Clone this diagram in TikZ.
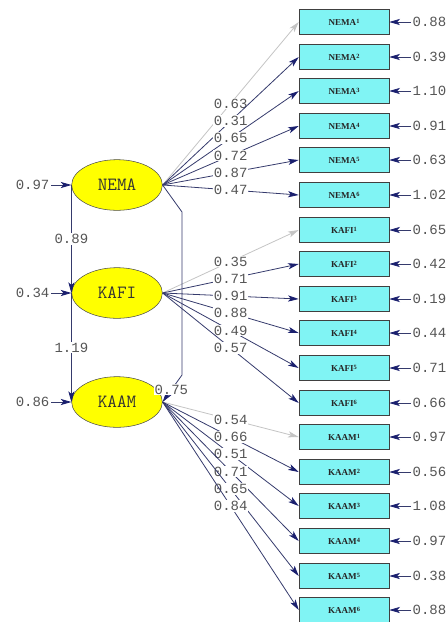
\documentclass[tikz,border=0pt]{standalone}
\usepackage{fontspec}
\newfontfamily\numfont{Liberation Mono}
\newfontfamily\boxfont{Liberation Serif}
\usetikzlibrary{arrows.meta,shapes.geometric}
\definecolor{boxcyan}{HTML}{80F4F4}
\definecolor{latyellow}{HTML}{FFFF00}
\definecolor{pathnavy}{HTML}{1A1F6E}
\definecolor{pathline}{HTML}{353A6C}
\definecolor{fixgray}{HTML}{C4C4C4}
\definecolor{numgray}{HTML}{555555}
\newcommand{\obsname}[2]{#1\raisebox{1.4pt}{\fontsize{4.8}{4.8}\selectfont #2}}
\tikzset{
  latent/.style={draw=black!70, fill=latyellow, ellipse, minimum width=68pt, minimum height=38pt, inner sep=0pt, text=black!80, font=\ttfamily\fontsize{14}{14}\selectfont},
  indicator/.style={draw=black!75, fill=boxcyan, minimum width=67.5pt, minimum height=18.75pt, inner sep=0pt, text=black!85, font=\boxfont\bfseries\fontsize{6.8}{6.8}\selectfont},
  loading/.style={draw=pathline, line width=0.6pt, -{Stealth[length=8pt, width=4.6pt, inset=2pt, color=pathnavy]}},
  fixed/.style={draw=fixgray, line width=0.6pt, -{Stealth[length=8pt, width=4.6pt, inset=2pt, color=fixgray]}},
  coef/.style={fill=white, inner sep=0.6pt, text=numgray, font=\numfont\fontsize{10.5}{10.5}\selectfont},
  errnum/.style={inner sep=1pt, text=numgray, font=\numfont\fontsize{10.5}{10.5}\selectfont}
}
\begin{document}
\begin{tikzpicture}[x=0.75pt, y=-0.75pt]
    \useasboundingbox (0, 0) rectangle (448, 622);

    % latent variables
    \node[latent] (nema) at (117, 185) {NEMA};
    \node[latent] (kafi) at (117, 293) {KAFI};
    \node[latent] (kaam) at (117, 402) {KAAM};

    % observed variables
    \node[indicator] (nema1) at (344, 22) {\obsname{NEMA}{1}};
    \node[indicator] (nema2) at (344, 57) {\obsname{NEMA}{2}};
    \node[indicator] (nema3) at (344, 91) {\obsname{NEMA}{3}};
    \node[indicator] (nema4) at (344, 126) {\obsname{NEMA}{4}};
    \node[indicator] (nema5) at (344, 160) {\obsname{NEMA}{5}};
    \node[indicator] (nema6) at (344, 195) {\obsname{NEMA}{6}};
    \node[indicator] (kafi1) at (344, 230) {\obsname{KAFI}{1}};
    \node[indicator] (kafi2) at (344, 264) {\obsname{KAFI}{2}};
    \node[indicator] (kafi3) at (344, 299) {\obsname{KAFI}{3}};
    \node[indicator] (kafi4) at (344, 333) {\obsname{KAFI}{4}};
    \node[indicator] (kafi5) at (344, 368) {\obsname{KAFI}{5}};
    \node[indicator] (kafi6) at (344, 403) {\obsname{KAFI}{6}};
    \node[indicator] (kaam1) at (344, 437) {\obsname{KAAM}{1}};
    \node[indicator] (kaam2) at (344, 472) {\obsname{KAAM}{2}};
    \node[indicator] (kaam3) at (344, 506) {\obsname{KAAM}{3}};
    \node[indicator] (kaam4) at (344, 541) {\obsname{KAAM}{4}};
    \node[indicator] (kaam5) at (344, 576) {\obsname{KAAM}{5}};
    \node[indicator] (kaam6) at (344, 610) {\obsname{KAAM}{6}};

    % error variances of the indicators
    \node[errnum, anchor=west] (enema1) at (411, 22) {0.88};
    \node[errnum, anchor=west] (enema2) at (411, 57) {0.39};
    \node[errnum, anchor=west] (enema3) at (411, 91) {1.10};
    \node[errnum, anchor=west] (enema4) at (411, 126) {0.91};
    \node[errnum, anchor=west] (enema5) at (411, 160) {0.63};
    \node[errnum, anchor=west] (enema6) at (411, 195) {1.02};
    \node[errnum, anchor=west] (ekafi1) at (411, 230) {0.65};
    \node[errnum, anchor=west] (ekafi2) at (411, 264) {0.42};
    \node[errnum, anchor=west] (ekafi3) at (411, 299) {0.19};
    \node[errnum, anchor=west] (ekafi4) at (411, 333) {0.44};
    \node[errnum, anchor=west] (ekafi5) at (411, 368) {0.71};
    \node[errnum, anchor=west] (ekafi6) at (411, 403) {0.66};
    \node[errnum, anchor=west] (ekaam1) at (411, 437) {0.97};
    \node[errnum, anchor=west] (ekaam2) at (411, 472) {0.56};
    \node[errnum, anchor=west] (ekaam3) at (411, 506) {1.08};
    \node[errnum, anchor=west] (ekaam4) at (411, 541) {0.97};
    \node[errnum, anchor=west] (ekaam5) at (411, 576) {0.38};
    \node[errnum, anchor=west] (ekaam6) at (411, 610) {0.88};

    \draw[loading] (enema1) -- (nema1);
    \draw[loading] (enema2) -- (nema2);
    \draw[loading] (enema3) -- (nema3);
    \draw[loading] (enema4) -- (nema4);
    \draw[loading] (enema5) -- (nema5);
    \draw[loading] (enema6) -- (nema6);
    \draw[loading] (ekafi1) -- (kafi1);
    \draw[loading] (ekafi2) -- (kafi2);
    \draw[loading] (ekafi3) -- (kafi3);
    \draw[loading] (ekafi4) -- (kafi4);
    \draw[loading] (ekafi5) -- (kafi5);
    \draw[loading] (ekafi6) -- (kafi6);
    \draw[loading] (ekaam1) -- (kaam1);
    \draw[loading] (ekaam2) -- (kaam2);
    \draw[loading] (ekaam3) -- (kaam3);
    \draw[loading] (ekaam4) -- (kaam4);
    \draw[loading] (ekaam5) -- (kaam5);
    \draw[loading] (ekaam6) -- (kaam6);

    % error variances of the latents
    \node[errnum, anchor=east] (enema) at (51, 185) {0.97};
    \node[errnum, anchor=east] (ekafi) at (51, 293) {0.34};
    \node[errnum, anchor=east] (ekaam) at (51, 402) {0.86};
    \draw[loading] (enema) -- (nema.west);
    \draw[loading] (ekafi) -- (kafi.west);
    \draw[loading] (ekaam) -- (kaam.west);

    % factor loadings
    \draw[fixed] (nema.east) -- node[coef] {0.63} (nema1.west);
    \draw[loading] (nema.east) -- node[coef] {0.31} (nema2.west);
    \draw[loading] (nema.east) -- node[coef] {0.65} (nema3.west);
    \draw[loading] (nema.east) -- node[coef] {0.72} (nema4.west);
    \draw[loading] (nema.east) -- node[coef] {0.87} (nema5.west);
    \draw[loading] (nema.east) -- node[coef] {0.47} (nema6.west);

    \draw[fixed] (kafi.east) -- node[coef] {0.35} (kafi1.west);
    \draw[loading] (kafi.east) -- node[coef] {0.71} (kafi2.west);
    \draw[loading] (kafi.east) -- node[coef] {0.91} (kafi3.west);
    \draw[loading] (kafi.east) -- node[coef] {0.88} (kafi4.west);
    \draw[loading] (kafi.east) -- node[coef] {0.49} (kafi5.west);
    \draw[loading] (kafi.east) -- node[coef] {0.57} (kafi6.west);

    \draw[fixed] (kaam.east) -- node[coef] {0.54} (kaam1.west);
    \draw[loading] (kaam.east) -- node[coef] {0.66} (kaam2.west);
    \draw[loading] (kaam.east) -- node[coef] {0.51} (kaam3.west);
    \draw[loading] (kaam.east) -- node[coef] {0.71} (kaam4.west);
    \draw[loading] (kaam.east) -- node[coef] {0.65} (kaam5.west);
    \draw[loading] (kaam.east) -- node[coef] {0.84} (kaam6.west);

    % structural paths
    \draw[loading] (nema.west) -- node[coef] {0.89} (kafi.west);
    \draw[loading] (kafi.west) -- node[coef] {1.19} (kaam.west);
    \coordinate (bendtop) at (182, 212);
    \coordinate (bendbot) at (182, 375);
    \draw[loading] (nema.east) -- (bendtop) -- (bendbot) -- node[coef, pos=0.55] {0.75} (kaam.east);
\end{tikzpicture}
\end{document}
